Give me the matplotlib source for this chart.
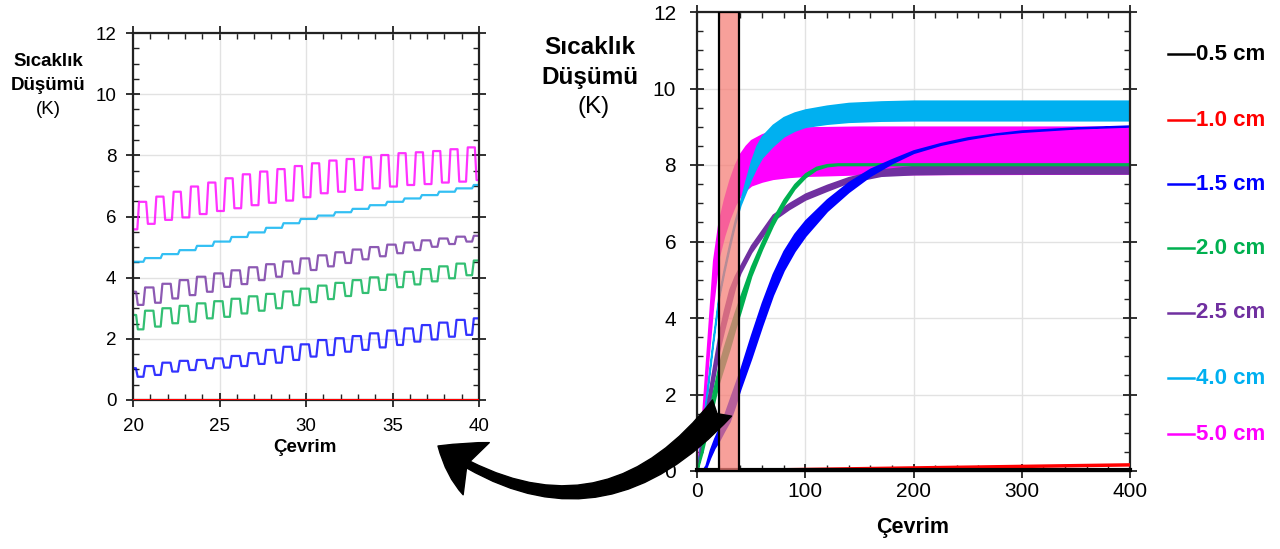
import matplotlib
matplotlib.use("Agg")
import matplotlib.pyplot as plt
from matplotlib.ticker import MultipleLocator
from matplotlib.patches import Rectangle, FancyArrowPatch
from matplotlib.lines import Line2D

plt.rcParams['font.family'] = ['Liberation Sans', 'DejaVu Sans']

W, H = 1280, 549

# legend / series
labels = ['0.5 cm', '1.0 cm', '1.5 cm', '2.0 cm', '2.5 cm', '4.0 cm', '5.0 cm']
colors = ['#000000', '#ff0000', '#0000ff', '#00b050', '#7030a0', '#00b0f0', '#ff00ff']
legend_y = [54, 120, 184, 248, 313, 378, 434]

# ---- right panel: 0..400 cycles, bands (upper / lower envelope)
x05 = [0, 400]
y05 = [0.02, 0.02]
x10 = [0, 100, 200, 300, 400]
y10 = [0.0, 0.04, 0.08, 0.12, 0.16]

x15 = [0, 5, 8, 12, 16, 20, 25, 30, 35, 40, 50, 60, 70, 80, 90, 100, 120,
       140, 160, 180, 200, 225, 250, 275, 300, 350, 400]
up15 = [0, 0.02, 0.15, 0.55, 0.85, 1.1, 1.45, 1.85, 2.25, 2.65, 3.55, 4.4,
        5.15, 5.75, 6.2, 6.55, 7.1, 7.55, 7.9, 8.15, 8.38, 8.57, 8.72, 8.82,
        8.9, 8.98, 9.03]
lo15 = [0, 0, 0.05, 0.35, 0.6, 0.78, 1.05, 1.3, 1.7, 2.15, 2.95, 3.8, 4.6,
        5.25, 5.75, 6.15, 6.8, 7.3, 7.72, 8.05, 8.32, 8.53, 8.68, 8.8, 8.87,
        8.96, 9.01]

x20 = [0, 5, 10, 15, 20, 25, 30, 35, 40, 50, 60, 70, 80, 90, 100, 110, 120,
       130, 400]
up20 = [0, 0.7, 1.4, 2.1, 2.75, 3.25, 3.7, 4.15, 4.56, 5.35, 6.0, 6.6, 7.1,
        7.5, 7.78, 7.95, 8.02, 8.04, 8.04]
lo20 = [0, 0.5, 1.1, 1.7, 2.3, 2.75, 3.2, 3.7, 4.15, 5.1, 5.8, 6.42, 6.95,
        7.38, 7.68, 7.88, 7.97, 8.0, 8.0]

x25 = [0, 5, 10, 15, 20, 25, 30, 35, 40, 50, 60, 70, 85, 100, 120, 140, 170,
       200, 250, 400]
up25 = [0, 1.0, 1.9, 2.75, 3.55, 4.2, 4.75, 5.1, 5.37, 5.9, 6.3, 6.7, 7.0,
        7.25, 7.48, 7.68, 7.88, 7.97, 8.0, 8.02]
lo25 = [0, 0.7, 1.5, 2.3, 3.1, 3.7, 4.25, 4.8, 5.18, 5.72, 6.12, 6.55, 6.85,
        7.1, 7.33, 7.55, 7.72, 7.76, 7.78, 7.78]

x40 = [0, 5, 10, 15, 20, 25, 30, 35, 40, 45, 50, 55, 60, 70, 80, 90, 100,
       120, 140, 170, 200, 400]
up40 = [0, 1.1, 2.3, 3.5, 4.58, 5.3, 5.95, 6.55, 7.05, 7.6, 8.1, 8.5, 8.75,
        9.05, 9.25, 9.37, 9.45, 9.55, 9.62, 9.66, 9.68, 9.68]
lo40 = [0, 1.0, 2.2, 3.4, 4.5, 5.2, 5.85, 6.45, 6.95, 7.3, 7.65, 7.95, 8.2,
        8.5, 8.75, 8.9, 9.0, 9.08, 9.13, 9.16, 9.17, 9.17]

x50 = [0, 5, 10, 15, 20, 25, 30, 35, 40, 45, 50, 60, 70, 85, 100, 150, 400]
up50 = [0, 1.5, 3.5, 5.5, 6.5, 7.1, 7.6, 8.0, 8.3, 8.5, 8.65, 8.8, 8.9,
        8.95, 8.98, 9.0, 9.0]
lo50 = [0, 1.0, 2.8, 4.4, 5.6, 6.15, 6.6, 6.95, 7.2, 7.35, 7.47, 7.57, 7.64,
        7.69, 7.72, 7.76, 7.78]

# ---- left panel: cycles 20..40, value in high / low half of each cycle
cyc_a = 19   # first cycle for 5.0 cm
hi50 = [6.3, 6.48, 6.65, 6.81, 6.98, 7.11, 7.25, 7.38, 7.47, 7.55, 7.65,
        7.74, 7.83, 7.88, 7.94, 8.01, 8.07, 8.1, 8.14, 8.2, 8.26]
lo50c = [5.58, 5.76, 5.89, 5.97, 6.08, 6.18, 6.27, 6.37, 6.45, 6.52, 6.63,
         6.76, 6.81, 6.87, 6.92, 6.98, 7.03, 7.06, 7.11, 7.14, 7.19]

cyc_b = 20   # first cycle for the others
hi15 = [1.04, 1.11, 1.22, 1.28, 1.31, 1.36, 1.44, 1.53, 1.64, 1.74, 1.82,
        1.96, 2.02, 2.09, 2.18, 2.27, 2.34, 2.45, 2.53, 2.62, 2.67]
lo15c = [0.76, 0.82, 0.93, 0.98, 1.04, 1.06, 1.11, 1.18, 1.22, 1.31, 1.42,
         1.47, 1.58, 1.64, 1.72, 1.8, 1.91, 1.98, 2.07, 2.13, 2.2]
hi20 = [2.78, 2.92, 3.0, 3.08, 3.16, 3.23, 3.31, 3.39, 3.47, 3.55, 3.64,
        3.74, 3.83, 3.92, 4.01, 4.1, 4.19, 4.28, 4.37, 4.46, 4.56]
lo20c = [2.31, 2.4, 2.51, 2.56, 2.67, 2.72, 2.83, 2.92, 3.0, 3.1, 3.2,
         3.3, 3.4, 3.5, 3.6, 3.69, 3.78, 3.88, 3.98, 4.08, 4.15]
hi25 = [3.54, 3.68, 3.8, 3.92, 4.03, 4.14, 4.24, 4.34, 4.44, 4.53, 4.63,
        4.73, 4.83, 4.92, 5.0, 5.08, 5.15, 5.22, 5.28, 5.34, 5.37]
lo25c = [3.11, 3.18, 3.32, 3.43, 3.54, 3.7, 3.79, 3.92, 4.03, 4.14, 4.25,
         4.37, 4.48, 4.6, 4.7, 4.8, 4.9, 5.01, 5.1, 5.18, 5.22]
step40 = [4.52, 4.64, 4.77, 4.9, 5.04, 5.18, 5.33, 5.48, 5.63, 5.78, 5.92,
          6.03, 6.14, 6.25, 6.37, 6.48, 6.59, 6.7, 6.81, 6.92, 7.03]


def square_wave(n0, hi, lo, rise, fall, ramp=0.1):
    xs, ys = [], []
    for k in range(len(hi)):
        n = n0 + k
        xs += [n + rise, n + fall - ramp, n + fall, n + 1 + rise - ramp]
        ys += [hi[k], hi[k], lo[k], lo[k]]
    return xs, ys


def style_axes(ax, xmaj, xmin, fs, xpad, ypad):
    ax.xaxis.set_major_locator(MultipleLocator(xmaj))
    ax.xaxis.set_minor_locator(MultipleLocator(xmin))
    ax.yaxis.set_major_locator(MultipleLocator(2))
    ax.yaxis.set_minor_locator(MultipleLocator(0.5))
    ax.tick_params(which='major', direction='inout', length=10, width=1.3,
                   top=True, right=True, labelsize=fs, colors='#222222')
    ax.tick_params(which='minor', direction='in', length=4, width=1.0,
                   top=True, right=True, colors='#222222')
    ax.tick_params(axis='x', which='major', pad=xpad)
    ax.tick_params(axis='y', which='major', pad=ypad)
    ax.tick_params(labelcolor='black')
    ax.grid(which='major', color='#e2e2e2', lw=1)
    ax.set_axisbelow(True)
    for s in ax.spines.values():
        s.set_linewidth(1.6)
        s.set_color('#222222')


fig = plt.figure(figsize=(W / 100, H / 100), dpi=100)

# ---------- left panel
axL = fig.add_axes([133 / W, 1 - 400 / H, 346 / W, 367 / H])
axL.plot([20, 40], [0, 0], color=colors[1], lw=2.2, zorder=3)
for n0, hi, lo, rise, fall, c in [
        (cyc_b, hi15, lo15c, -0.3, 0.27, colors[2]),
        (cyc_b, hi20, lo20c, -0.3, 0.28, colors[3]),
        (cyc_b, hi25, lo25c, -0.3, 0.28, colors[4]),
        (cyc_b, step40, step40, -0.3, 0.25, colors[5]),
        (cyc_a, hi50, lo50c, 0.35, 0.86, colors[6])]:
    xs, ys = square_wave(n0, hi, lo, rise, fall)
    axL.plot(xs, ys, color=c, lw=1.6, alpha=0.8)
axL.set_xlim(20, 40)
axL.set_ylim(0, 12)
style_axes(axL, 5, 1, 13.5, 8, 7)

fig.text(305 / W, 1 - 447 / H, 'Çevrim', ha='center', va='center',
         fontsize=13.5, fontweight='bold')
fig.text(48 / W, 1 - 62 / H, 'Sıcaklık', ha='center', va='center',
         fontsize=13.5, fontweight='bold')
fig.text(48 / W, 1 - 86 / H, 'Düşümü', ha='center', va='center',
         fontsize=13.5, fontweight='bold')
fig.text(48 / W, 1 - 110 / H, '(K)', ha='center', va='center', fontsize=13.5)

# ---------- right panel
axR = fig.add_axes([697 / W, 1 - 471 / H, 433 / W, 459 / H])
bands = [(x50, up50, lo50, colors[6]),
         (x40, up40, lo40, colors[5]),
         (x25, up25, lo25, colors[4]),
         (x20, up20, lo20, colors[3]),
         (x15, up15, lo15, colors[2])]
for xs, up, lo, c in bands:
    axR.fill_between(xs, lo, up, color=c, lw=1.2, zorder=2)
axR.plot(x10, y10, color=colors[1], lw=2.5, zorder=3)
axR.plot(x05, y05, color=colors[0], lw=3, zorder=3, clip_on=False)
axR.add_patch(Rectangle((20, 0), 18.5, 12, facecolor=(0.96, 0.5, 0.47),
                        alpha=0.75, edgecolor='none', zorder=4))
axR.add_patch(Rectangle((20, 0), 18.5, 12, facecolor='none',
                        edgecolor='black', lw=1.6, zorder=5))
axR.set_xlim(0, 400)
axR.set_ylim(0, 12)
style_axes(axR, 100, 20, 15, 3, 10)

fig.text(913 / W, 1 - 527 / H, 'Çevrim', ha='center', va='center',
         fontsize=15.5, fontweight='bold')
fig.text(590 / W, 1 - 48 / H, 'Sıcaklık', ha='center', va='center',
         fontsize=17.5, fontweight='bold')
fig.text(590 / W, 1 - 78 / H, 'Düşümü', ha='center', va='center',
         fontsize=17.5, fontweight='bold')
fig.text(594 / W, 1 - 107 / H, '(K)', ha='center', va='center', fontsize=17.5)

# legend at right
for lab, c, y in zip(labels, colors, legend_y):
    fig.add_artist(Line2D([1168 / W, 1194 / W], [1 - y / H, 1 - y / H],
                          transform=fig.transFigure, color=c, lw=1.8))
    fig.text(1196 / W, 1 - y / H, lab, color=c, ha='left', va='center',
             fontsize=16, fontweight='bold')

# curved arrow from zoom box to left panel
arrow = FancyArrowPatch((722 / W, 1 - 408 / H), (438 / W, 1 - 446 / H),
                        transform=fig.transFigure,
                        connectionstyle='arc3,rad=-0.45',
                        arrowstyle='fancy,head_length=32,head_width=42,tail_width=18',
                        mutation_scale=1, color='black', shrinkA=0, shrinkB=0,
                        zorder=10)
fig.add_artist(arrow)

fig.savefig('out.png', dpi=100)
